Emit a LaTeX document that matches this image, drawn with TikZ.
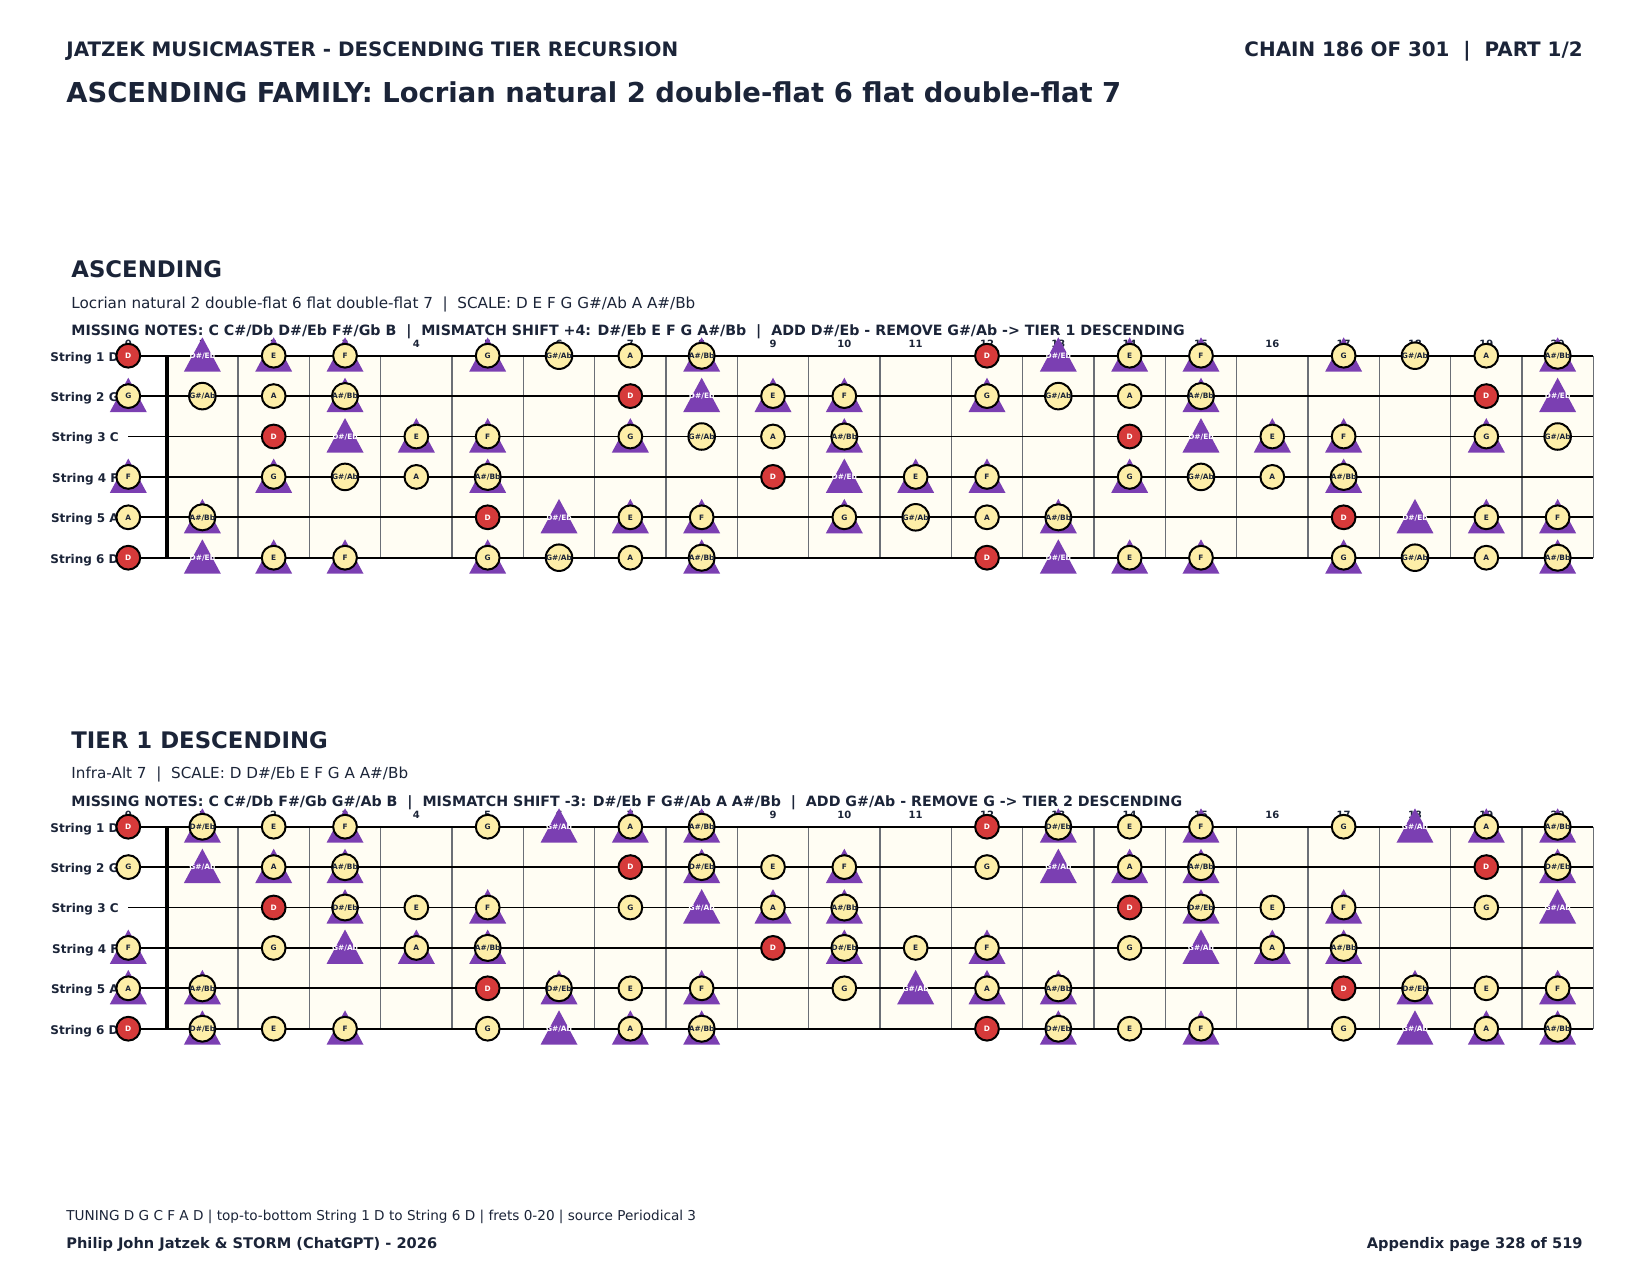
\documentclass[tikz,border=0pt]{standalone}
\usepackage{fontspec}
\setmainfont{DejaVu Sans}
\usetikzlibrary{positioning}

\definecolor{ink}{HTML}{1B2438}
\definecolor{notefill}{HTML}{FDEEA8}
\definecolor{rootred}{HTML}{D63A3A}
\definecolor{shiftpurple}{HTML}{7B3FB2}
\definecolor{boardbg}{HTML}{FFFDF3}
\definecolor{fretgray}{HTML}{6B6F76}

% note names, C = 0
\newcommand\notename[1]{\ifcase#1 C\or C\#/Db\or D\or D\#/Eb\or E\or F\or
  F\#/Gb\or G\or G\#/Ab\or A\or A\#/Bb\or B\fi}
% scale (circles) and shift set (triangles) of each tier
\newcommand\circA[1]{\ifcase#1 0\or0\or1\or0\or1\or1\or0\or1\or1\or1\or1\or0\fi}
\newcommand\triA[1]{\ifcase#1 0\or0\or0\or1\or1\or1\or0\or1\or0\or0\or1\or0\fi}
\newcommand\circB[1]{\ifcase#1 0\or0\or1\or1\or1\or1\or0\or1\or0\or1\or1\or0\fi}
\newcommand\triB[1]{\ifcase#1 0\or0\or0\or1\or0\or1\or0\or0\or1\or1\or1\or0\fi}

\tikzset{
  notedot/.style={circle, draw=black, line width=1pt, fill=notefill,
    minimum size=11.9pt, inner sep=0pt, text=ink,
    font=\fontsize{3.7pt}{4pt}\selectfont\bfseries,
    text height=2.7pt, text depth=0pt},
  rootdot/.style={notedot, fill=rootred, text=white},
  shiftonly/.style={inner sep=0pt, text=white,
    font=\fontsize{3.7pt}{4pt}\selectfont\bfseries,
    text height=2.7pt, text depth=0pt},
  shifttri/.style={fill=shiftpurple},
  fretno/.style={inner sep=0pt, anchor=base, text=ink,
    font=\fontsize{5pt}{6pt}\selectfont\bfseries},
  strlab/.style={inner sep=0pt, anchor=mid east, text=ink,
    font=\fontsize{6pt}{7pt}\selectfont\bfseries},
  strline/.style={draw=black, line width=0.85pt},
  fretline/.style={draw=fretgray, line width=0.6pt},
  nutline/.style={draw=black, line width=2pt},
  headtxt/.style={inner sep=0pt, text=ink,
    font=\fontsize{9.95pt}{12pt}\selectfont\bfseries},
  titletxt/.style={inner sep=0pt, anchor=base west, text=ink,
    font=\fontsize{13.7pt}{16pt}\selectfont\bfseries},
  secttxt/.style={inner sep=0pt, anchor=base west, text=ink,
    font=\fontsize{11.4pt}{13pt}\selectfont\bfseries},
  subtxt/.style={inner sep=0pt, anchor=base west, text=ink,
    font=\fontsize{7.6pt}{9pt}\selectfont},
  misstxt/.style={inner sep=0pt, anchor=base west, text=ink,
    font=\fontsize{7.1pt}{9pt}\selectfont\bfseries},
  foottxt/.style={inner sep=0pt, text=ink,
    font=\fontsize{6.8pt}{9pt}\selectfont},
  footbold/.style={inner sep=0pt, text=ink,
    font=\fontsize{7.3pt}{9pt}\selectfont\bfseries}
}

\begin{document}
\begin{tikzpicture}[x=0.5pt,y=-0.5pt]
\useasboundingbox (0,0) rectangle (1650,1275);
\fill[white] (0,0) rectangle (1650,1275);

% page head
\node[headtxt, anchor=base west] (head) at (66,56.8)
  {JATZEK MUSICMASTER - DESCENDING TIER RECURSION};
\node[headtxt, anchor=base east] (chain) at (1583,56.8)
  {CHAIN 186 OF 301\ \ |\ \ PART 1/2};
\node[titletxt] (title) at (66,102.5)
  {ASCENDING FAMILY: Locrian natural 2 double-flat 6 flat double-flat 7};

% tier texts
\node[secttxt] (asc) at (71,277.7) {ASCENDING};
\node[subtxt] (ascsub) at (71,308.5)
  {Locrian natural 2 double-flat 6 flat double-flat 7\ \ |\ \ SCALE: D E F G G\#/Ab A A\#/Bb};
\node[misstxt] (ascmiss) at (71,335.7)
  {MISSING NOTES: C C\#/Db D\#/Eb F\#/Gb B\ \ |\ \ MISMATCH SHIFT +4: D\#/Eb E F G A\#/Bb\ \ |\ \ ADD D\#/Eb - REMOVE G\#/Ab -> TIER 1 DESCENDING};
\node[secttxt] (tier) at (71,748.1) {TIER 1 DESCENDING};
\node[subtxt] (tiersub) at (71,778.9)
  {Infra-Alt 7\ \ |\ \ SCALE: D D\#/Eb E F G A A\#/Bb};
\node[misstxt] (tiermiss) at (71,806.1)
  {MISSING NOTES: C C\#/Db F\#/Gb G\#/Ab B\ \ |\ \ MISMATCH SHIFT -3: D\#/Eb F G\#/Ab A A\#/Bb\ \ |\ \ ADD G\#/Ab - REMOVE G -> TIER 2 DESCENDING};

% fretboards
\foreach \yo/\incirc/\intri [count=\bd] in {0/\circA/\triA, 471/\circB/\triB}{
  \pgfmathsetmacro\ytop{355.7+\yo}
  \pgfmathsetmacro\ybot{355.7+5*40.4+\yo}
  \fill[boardbg] (166.7,\ytop) rectangle (1593.3,\ybot);
  \foreach \k in {1,...,20}
    \draw[fretline] (166.7+\k*71.33,\ytop) -- (166.7+\k*71.33,\ybot);
  \foreach \nm [count=\st] in {D,G,C,F,A,D}{
    \pgfmathsetmacro\sy{355.7+(\st-1)*40.4+\yo}
    \node[strlab] (lab\bd-\st) at (119,\sy) {String \st\ \nm};
    \draw[strline] (128.3,\sy) -- (1593.3,\sy);
  }
  \draw[nutline] (166.7,\ytop) -- (166.7,\ybot);
  \foreach \fr in {0,...,20}{
    \pgfmathsetmacro\fx{ifthenelse(\fr==0,128.3,166.7+(\fr-0.5)*71.33)}
    \node[fretno] (no\bd-\fr) at (\fx,\ytop-8.5) {\fr};
  }
  \foreach \op [count=\st] in {2,7,0,5,9,2}{
    \pgfmathsetmacro\sy{355.7+(\st-1)*40.4+\yo}
    \foreach \fr in {0,...,20}{
      \pgfmathsetmacro\fx{ifthenelse(\fr==0,128.3,166.7+(\fr-0.5)*71.33)}
      \pgfmathtruncatemacro\nt{mod(\op+\fr,12)}
      \ifnum\intri{\nt}=1
        \fill[shifttri] (\fx-18.5,\sy+16) -- (\fx,\sy-18.4) -- (\fx+18.5,\sy+16) -- cycle;
      \fi
      \def\mk{}
      \ifnum\intri{\nt}=1 \def\mk{shiftonly}\fi
      \ifnum\incirc{\nt}=1 \def\mk{notedot}\fi
      \ifnum\nt=2 \def\mk{rootdot}\fi
      \ifx\mk\empty\else
        \node[\mk] (p\bd-\st-\fr) at (\fx,\sy) {\notename{\nt}};
      \fi
    }
  }
}

% page foot
\node[foottxt, anchor=base west] (tuning) at (66,1220.7)
  {TUNING D G C F A D | top-to-bottom String 1 D to String 6 D | frets 0-20 | source Periodical 3};
\node[footbold, anchor=base west] (author) at (66,1248.1)
  {Philip John Jatzek \& STORM (ChatGPT) - 2026};
\node[footbold, anchor=base east] (page) at (1583,1248.1)
  {Appendix page 328 of 519};
\end{tikzpicture}
\end{document}
